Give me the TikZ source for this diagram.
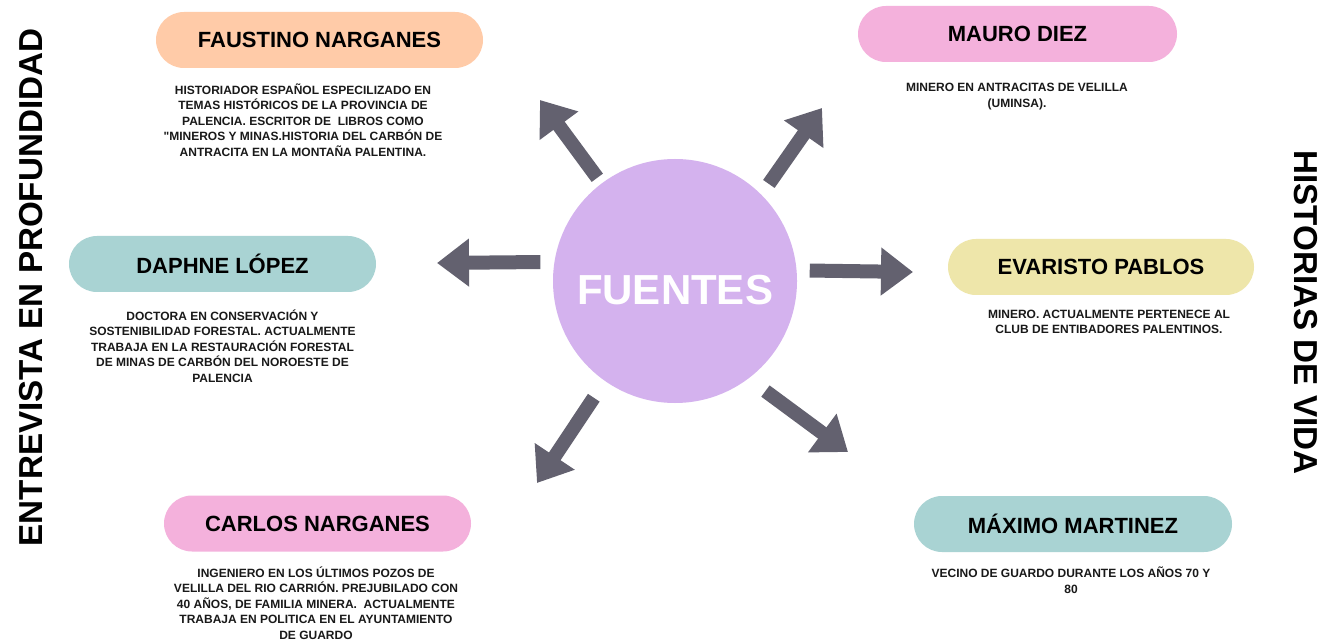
\documentclass[tikz,border=0pt]{standalone}
\usepackage{fontspec}
\setmainfont{Liberation Sans}[Ligatures=TeXOff]
\usetikzlibrary{arrows.meta}
\definecolor{peach}{HTML}{FFCBA8}
\definecolor{pinkc}{HTML}{F4B1DC}
\definecolor{tealc}{HTML}{A9D3D3}
\definecolor{yellowc}{HTML}{EEE6AA}
\definecolor{lavender}{HTML}{D4B2EE}
\definecolor{arrowc}{HTML}{63616F}
\begin{document}
\begin{tikzpicture}[x=1pt,y=-1pt,
  pill/.style={rectangle, rounded corners=28pt, minimum height=56pt, inner sep=0pt,
    font=\fontsize{22}{26}\selectfont\bfseries, text=black},
  desc/.style={align=center, inner sep=0pt, font=\fontsize{12}{15.6}\selectfont\bfseries, text=black!90},
  side/.style={inner sep=0pt, font=\fontsize{33.2}{36}\selectfont\bfseries},
  arr/.style={draw=arrowc, line width=14pt, -{Triangle[width=46pt,length=32pt]}, arrowc}
]
\useasboundingbox (0,0) rectangle (1333,644);
\fill[white] (0,0) rectangle (1333,644);

% centre
\node[circle, fill=lavender, minimum size=244pt, inner sep=0pt] (fc) at (675,281) {};
\node[text=white, font=\fontsize{42}{46}\selectfont\bfseries, inner sep=0pt] (ft) at (675,290) {FUENTES};

% pills
\node[pill, fill=peach, minimum width=327pt] (p1) at (319.5,40) {FAUSTINO NARGANES};
\node[pill, fill=pinkc, minimum width=319pt] (p2) at (1017.5,34) {MAURO DIEZ};
\node[pill, fill=tealc, minimum width=307pt] (p3) at (222.5,264) {DAPHNE LÓPEZ};
\node[pill, fill=yellowc, minimum width=306pt] (p4) at (1101,267) {EVARISTO PABLOS};
\node[pill, fill=pinkc, minimum width=307pt] (p5) at (317.5,523.5) {CARLOS NARGANES};
\node[pill, fill=tealc, minimum width=318pt] (p6) at (1073,524) {MÁXIMO MARTINEZ};

% descriptions
\node[desc] (d1) at (303,120) {HISTORIADOR ESPAÑOL ESPECILIZADO EN\\TEMAS HISTÓRICOS DE LA PROVINCIA DE\\PALENCIA. ESCRITOR DE\ \ LIBROS COMO\\"MINEROS Y MINAS.HISTORIA DEL CARBÓN DE\\ANTRACITA EN LA MONTAÑA PALENTINA.};
\node[desc] (d2) at (1017,96.5) {MINERO EN ANTRACITAS DE VELILLA\\(UMINSA).};
\node[desc] (d3) at (222.5,346) {DOCTORA EN CONSERVACIÓN Y\\SOSTENIBILIDAD FORESTAL. ACTUALMENTE\\TRABAJA EN LA RESTAURACIÓN FORESTAL\\DE MINAS DE CARBÓN DEL NOROESTE DE\\PALENCIA};
\node[desc] (d4) at (1109,322) {MINERO. ACTUALMENTE PERTENECE AL\\CLUB DE ENTIBADORES PALENTINOS.};
\node[desc] (d5) at (316,603) {INGENIERO EN LOS ÚLTIMOS POZOS DE\\VELILLA DEL RIO CARRIÓN. PREJUBILADO CON\\40 AÑOS, DE FAMILIA MINERA.\ \ ACTUALMENTE\\TRABAJA EN POLITICA EN EL AYUNTAMIENTO\\DE GUARDO};
\node[desc] (d6) at (1071,580) {VECINO DE GUARDO DURANTE LOS AÑOS 70 Y\\80};

% side labels
\node[side, rotate=90] (s1) at (31,287.5) {ENTREVISTA EN PROFUNDIDAD};
\node[side, rotate=-90] (s2) at (1306,312.5) {HISTORIAS DE VIDA};

% arrows
\coordinate (t1) at (540,100);
\coordinate (t2) at (822,108);
\coordinate (t3) at (437,263);
\coordinate (t4) at (913,272);
\coordinate (t5) at (537,483);
\coordinate (t6) at (848,452);
\draw[arr, shorten <=7pt] (fc.127) -- (t1);
\draw[arr, shorten <=13pt] (fc.45) -- (t2);
\draw[arr, shorten <=14pt] (fc.171.5) -- (t3);
\draw[arr, shorten <=13pt] (fc.5.2) -- (t4);
\draw[arr, shorten <=20pt] (fc.235.6) -- (t5);
\draw[arr, shorten <=21pt] (fc.307.4) -- (t6);
\end{tikzpicture}
\end{document}
